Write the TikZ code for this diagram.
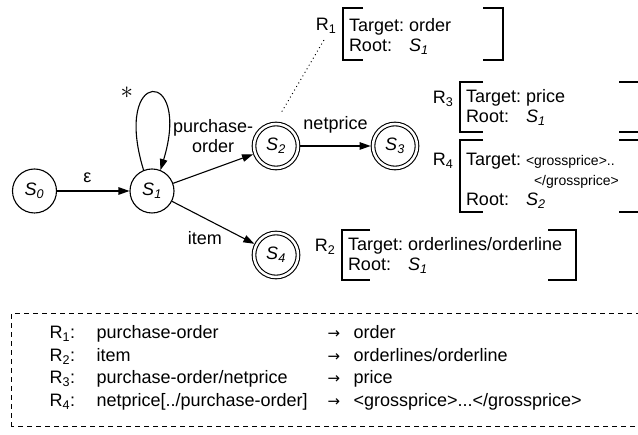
\documentclass[tikz,border=0pt]{standalone}
\usepackage{fontspec}
\setmainfont{Liberation Sans}
\newfontfamily\arrowfont{DejaVu Sans}
\usetikzlibrary{arrows.meta}

\begin{document}
\begin{tikzpicture}[x=1pt,y=1pt,line width=1.1pt,>={Triangle[length=11pt,width=7.5pt]},font=\fontsize{18}{20}\selectfont]
\newcommand{\rulebrackets}[2]{%
\draw ([xshift=#2]#1.north west) -- (#1.north west) -- (#1.south west) -- ([xshift=#2]#1.south west);
\draw ([xshift=-#2]#1.north east) -- (#1.north east) -- (#1.south east) -- ([xshift=-#2]#1.south east);}
\newcommand{\ruleto}{{\arrowfont\fontsize{15}{15}\selectfont →}}
\tikzstyle{state}=[draw,circle,minimum size=44pt,inner sep=0pt]
\tikzstyle{final}=[state,double,double distance=2.5pt,outer sep=2.4pt]
\tikzstyle{edge}=[->]
\tikzstyle{leader}=[line width=1.3pt,line cap=round,dash pattern=on 0.1pt off 4pt]
\tikzstyle{rulebox}=[anchor=north west,inner xsep=6pt,inner ysep=0pt,outer sep=0pt,align=left]
\tikzstyle{rlabel}=[anchor=base east,inner sep=2pt]
\useasboundingbox (0,0) rectangle (638,435);
\clip (0,0) rectangle (638,435);
% automaton
\node[state] (s0) at (34.5,244) {\textit{S\textsubscript{0}}};
\node[state] (s1) at (152,244) {\textit{S\textsubscript{1}}};
\node[final] (s2) at (276,289) {\textit{S\textsubscript{2}}};
\node[final] (s3) at (395,289) {\textit{S\textsubscript{3}}};
\node[final] (s4) at (276,180) {\textit{S\textsubscript{4}}};
\draw[edge] (s0) -- node[pos=0.42,above=4pt] {ε} (s1);
\draw[edge] (s1.112) .. controls (112,368) and (192,368) .. (s1.68) node[pos=0.5,left=15pt] {\fontsize{24}{24}\selectfont$\ast$};
\draw[edge] (s1) -- node[midway,above=12pt,align=center] {purchase-\\order} (s2);
\draw[edge] (s2) -- node[midway,above=9pt] {netprice} (s3);
\draw[edge] (s1) -- node[pos=0.4,below=9pt] {item} (s4);
% rules
\node[rulebox,text width=148pt,minimum height=52pt] (r1) at (343,427)
  {\begin{tabular}{@{}l@{\hspace{5pt}}l@{}}\rule{0pt}{22pt}Target: & order\\Root: & \textit{S\textsubscript{1}}\end{tabular}};
\node[rulebox,text width=222pt,minimum height=50pt] (r2) at (342,205)
  {\begin{tabular}{@{}l@{\hspace{5pt}}l@{}}\rule{0pt}{18pt}Target: & orderlines/orderline\\Root: & \textit{S\textsubscript{1}}\end{tabular}};
\node[rulebox,text width=170pt,minimum height=50pt] (r3) at (460,353)
  {\begin{tabular}{@{}l@{\hspace{5pt}}l@{}}\rule{0pt}{18pt}Target: & price\\Root: & \textit{S\textsubscript{1}}\end{tabular}};
\node[rulebox,text width=170pt,minimum height=72pt] (r4) at (460,295)
  {\begin{tabular}{@{}l@{\hspace{5pt}}l@{}}\rule{0pt}{26pt}Target: & {\fontsize{14}{20}\selectfont <grossprice>..}\\ & {\fontsize{14}{20}\selectfont\hspace{8pt}</grossprice>}\\Root: & \textit{S\textsubscript{2}}\end{tabular}};
\rulebrackets{r1}{20}
\rulebrackets{r2}{28}
\rulebrackets{r3}{23}
\rulebrackets{r4}{23}
\node[rlabel] (r1lab) at ([xshift=-4pt,yshift=-23pt]r1.north west) {R\textsubscript{1}};
\node[rlabel] (r2lab) at ([xshift=-4pt,yshift=-22pt]r2.north west) {R\textsubscript{2}};
\node[rlabel] (r3lab) at ([xshift=-4pt,yshift=-22pt]r3.north west) {R\textsubscript{3}};
\node[rlabel] (r4lab) at ([xshift=-4pt,yshift=-26pt]r4.north west) {R\textsubscript{4}};
\draw[leader,shorten <=12pt,shorten >=1pt] (s2.north) -- (r1lab.south);
% legend
\draw[line width=1pt,dash pattern=on 5pt off 4pt] (11,8) rectangle (660,121);
\node[anchor=base west,inner sep=0pt,font=\fontsize{18}{22.5}\selectfont] (legend) at (49,96)
  {\begin{tabular}[t]{@{}p{47pt}@{}p{231pt}@{}p{26pt}@{}l@{}}
  R\textsubscript{1}: & purchase-order & \ruleto & order\\
  R\textsubscript{2}: & item & \ruleto & orderlines/orderline\\
  R\textsubscript{3}: & purchase-order/netprice & \ruleto & price\\
  R\textsubscript{4}: & netprice[../purchase-order] & \ruleto & <grossprice>...</grossprice>
  \end{tabular}};
\end{tikzpicture}
\end{document}
